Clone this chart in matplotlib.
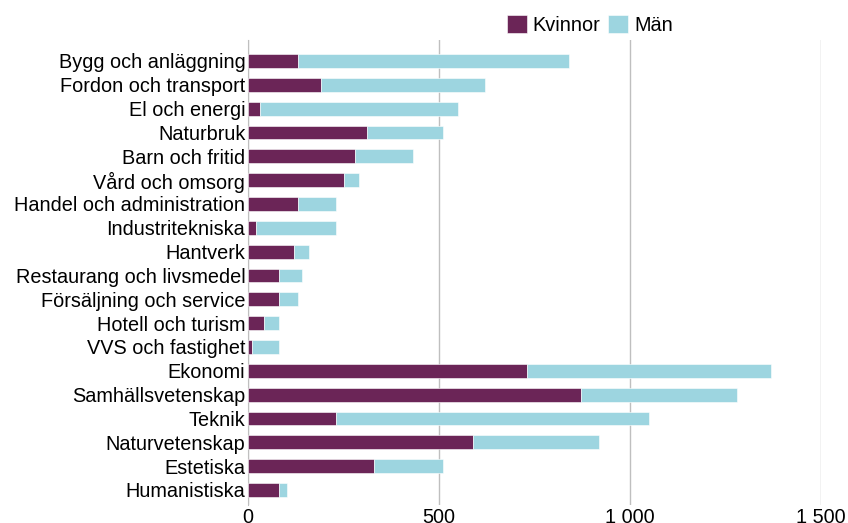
import matplotlib
matplotlib.use('Agg')
import matplotlib.pyplot as plt
from matplotlib.ticker import FuncFormatter

# Data
kategorier = ['Bygg och anläggning', 'Fordon och transport', 'El och energi', 'Naturbruk',
              'Barn och fritid', 'Vård och omsorg', 'Handel och administration',
              'Industritekniska', 'Hantverk', 'Restaurang och livsmedel',
              'Försäljning och service', 'Hotell och turism', 'VVS och fastighet',
              'Ekonomi', 'Samhällsvetenskap', 'Teknik', 'Naturvetenskap', 'Estetiska',
              'Humanistiska']
kvinnor = [131, 191, 31, 311, 281, 251, 131, 21, 120, 81, 81, 41, 11,
           730, 872, 231, 590, 331, 81]
man = [710, 430, 519, 199, 150, 39, 100, 210, 40, 60, 50, 40, 70,
       640, 408, 819, 330, 179, 20]

plt.rcParams['font.family'] = ['Liberation Sans', 'DejaVu Sans']

fig = plt.figure(figsize=(8.48, 5.23), dpi=100)
ax = fig.add_axes([0.2925, 0.0344, 0.968 - 0.2925, 0.9235 - 0.0344])

y = list(range(len(kategorier)))
ax.barh(y, kvinnor, height=0.58, color='#6b2557', edgecolor='white', linewidth=0.4,
        label='Kvinnor', zorder=3)
ax.barh(y, man, left=kvinnor, height=0.58, color='#9dd5e0', edgecolor='white',
        linewidth=0.4, label='Män', zorder=3)

ax.set_ylim(18.63, -0.88)
ax.set_xlim(0, 1500)
ax.set_xticks([0, 500, 1000, 1500])
ax.xaxis.set_major_formatter(FuncFormatter(lambda v, p: f'{int(v):,}'.replace(',', ' ')))
ax.set_yticks(y)
ax.set_yticklabels(kategorier)
ax.tick_params(axis='both', length=0, labelsize=14.3, colors='#000000')
ax.tick_params(axis='y', pad=2)
ax.tick_params(axis='x', pad=2)

ax.grid(axis='x', color='#bfbfbf', linewidth=1, zorder=0)
for s in ['top', 'right', 'bottom']:
    ax.spines[s].set_visible(False)
ax.spines['left'].set_color('#bfbfbf')

fig.legend(loc='center', bbox_to_anchor=(590 / 848, 1 - 25 / 523), ncol=2, frameon=False,
           fontsize=14.3, handlelength=1, handleheight=1, handletextpad=0.3,
           columnspacing=0.4)

plt.savefig('out.png', dpi=100)
